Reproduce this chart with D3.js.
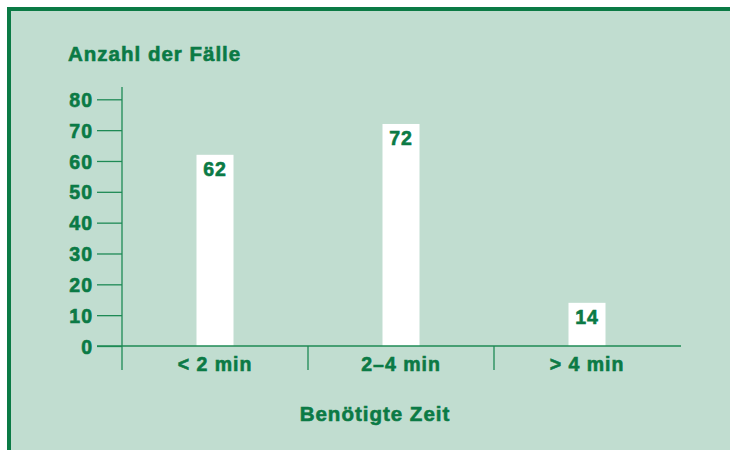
<!DOCTYPE html>
<html>
<head>
<meta charset="utf-8">
<script src="https://cdn.jsdelivr.net/npm/d3@7"></script>
<style>
  body { margin: 0; background: #fff; }
  svg text { font-family: "Liberation Sans", Arial, Helvetica, sans-serif; font-weight: bold; fill: #0b7a45; stroke: #0b7a45; stroke-width: 0.6px; letter-spacing: 1px; }
</style>
</head>
<body>
<svg width="730" height="450"></svg>
<script>
// data
const categories = ['< 2 min', '2–4 min', '> 4 min'];
const values = [62, 72, 14];
const yTicks = [0, 10, 20, 30, 40, 50, 60, 70, 80];
const yTitle = 'Anzahl der Fälle';
const xTitle = 'Benötigte Zeit';

const green = '#0b7a45';
const lineGreen = '#1e8a55';
const svg = d3.select('svg');

// frame: dark green border on top and left, light green panel
svg.append('rect').attr('x', 7).attr('y', 7).attr('width', 723).attr('height', 443).attr('fill', green);
svg.append('rect').attr('x', 11).attr('y', 11).attr('width', 719).attr('height', 439).attr('fill', '#c1ddd0');

const y = d3.scaleLinear().domain([0, 80]).range([346, 99.3]);
const x = d3.scaleBand().domain(categories).range([122, 680]);
const barW = 37;

// y axis ticks + labels
const yAxis = svg.append('g')
  .attr('transform', 'translate(122,0)')
  .call(d3.axisLeft(y).tickValues(yTicks).tickSize(25).tickPadding(4).tickSizeOuter(0));
yAxis.select('.domain').remove();
yAxis.selectAll('.tick line').attr('stroke', lineGreen).attr('stroke-width', 1.3);
yAxis.selectAll('.tick text')
  .attr('font-size', 19.5)
  .attr('fill', green)
  .attr('dy', '0.36em')
  .style('font-family', '"Liberation Sans", Arial, sans-serif');

// vertical axis line
svg.append('line')
  .attr('x1', 122).attr('x2', 122).attr('y1', 87).attr('y2', 370)
  .attr('stroke', lineGreen).attr('stroke-width', 1.3);

// bars
svg.selectAll('rect.bar')
  .data(values)
  .join('rect')
  .attr('class', 'bar')
  .attr('x', (d, i) => x(categories[i]) + x.bandwidth() / 2 - barW / 2)
  .attr('y', d => y(d))
  .attr('width', barW)
  .attr('height', d => y(0) - y(d))
  .attr('fill', '#fff');

// value labels inside bars
svg.selectAll('text.val')
  .data(values)
  .join('text')
  .attr('class', 'val')
  .attr('x', (d, i) => x(categories[i]) + x.bandwidth() / 2)
  .attr('y', d => y(d) + 21.5)
  .attr('text-anchor', 'middle')
  .attr('font-size', 19.5)
  .text(d => d);

// x axis line
svg.append('line')
  .attr('x1', 97).attr('x2', 681).attr('y1', y(0)).attr('y2', y(0))
  .attr('stroke', lineGreen).attr('stroke-width', 1.3);

// separators between categories
svg.selectAll('line.sep')
  .data(categories.slice(1))
  .join('line')
  .attr('class', 'sep')
  .attr('x1', d => x(d)).attr('x2', d => x(d))
  .attr('y1', y(0)).attr('y2', 370)
  .attr('stroke', lineGreen).attr('stroke-width', 1.3);

// category labels
svg.selectAll('text.cat')
  .data(categories)
  .join('text')
  .attr('class', 'cat')
  .attr('x', d => x(d) + x.bandwidth() / 2)
  .attr('y', 371)
  .attr('text-anchor', 'middle')
  .attr('font-size', 19.5)
  .text(d => d);

// titles
svg.append('text').attr('x', 68).attr('y', 61).attr('font-size', 20.5).text(yTitle);
svg.append('text').attr('x', 375).attr('y', 421).attr('text-anchor', 'middle').attr('font-size', 20.5).text(xTitle);
</script>
</body>
</html>
